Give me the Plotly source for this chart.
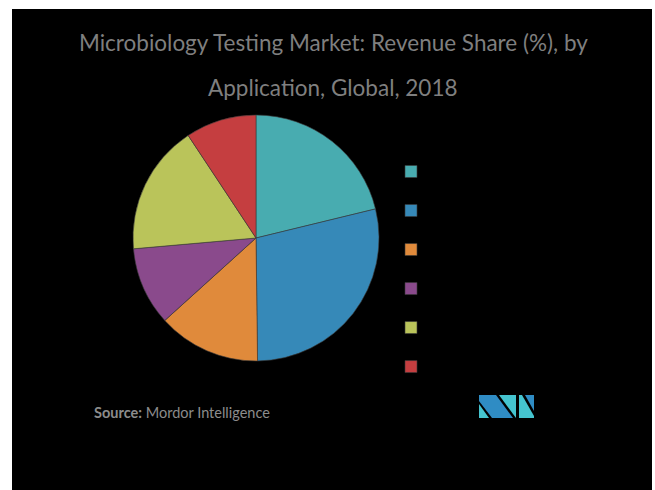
import plotly.graph_objects as go

W, H = 655, 490

applications = ["Clinical", "Pharmaceutical", "Food Testing", "Energy",
                "Chemicals", "Environmental"]
revenue_share = [21.2, 28.6, 13.5, 10.3, 17.1, 9.3]
slice_colors = ["#48acb0", "#3689b8", "#e08a3b", "#8a4a8c", "#bac45a", "#c53e40"]

title_line1 = "Microbiology Testing Market: Revenue Share (%), by"
title_line2 = "Application, Global, 2018"
source_text = "<b>Source:</b> Mordor Intelligence"


def px(x):
    return x / W


def py(y):
    return 1 - y / H


def path(points):
    return "M " + " L ".join(f"{px(x)},{py(y)}" for x, y in points) + " Z"


fig = go.Figure(go.Pie(
    labels=applications,
    values=revenue_share,
    sort=False,
    direction="clockwise",
    rotation=0,
    textinfo="none",
    marker=dict(colors=slice_colors, line=dict(color="#3a3a3a", width=0.6)),
    domain=dict(x=[px(133), px(379)], y=[py(361), py(115)]),
))

shapes = [
    dict(type="rect", xref="paper", yref="paper", x0=px(12), x1=px(652),
         y0=py(H), y1=py(9), fillcolor="black", line=dict(width=0), layer="below"),
    # logo
    dict(type="path", xref="paper", yref="paper", layer="above",
         path=path([(479, 395), (496, 395), (513, 418), (492, 418), (479, 401)]),
         fillcolor="#2f8cc4", line=dict(width=0)),
    dict(type="path", xref="paper", yref="paper", layer="above",
         path=path([(479, 404), (479, 418), (489, 418)]),
         fillcolor="#45c4cf", line=dict(width=0)),
    dict(type="path", xref="paper", yref="paper", layer="above",
         path=path([(499, 395), (516, 395), (516, 418)]),
         fillcolor="#45c4cf", line=dict(width=0)),
    dict(type="path", xref="paper", yref="paper", layer="above",
         path=path([(519, 395), (522, 395), (534, 416), (534, 418), (519, 418)]),
         fillcolor="#45c4cf", line=dict(width=0)),
    dict(type="path", xref="paper", yref="paper", layer="above",
         path=path([(525, 395), (534, 395), (534, 411)]),
         fillcolor="#2f8cc4", line=dict(width=0)),
]

annotations = [
    dict(text=title_line1, x=px(333), y=py(43), xref="paper", yref="paper",
         showarrow=False, xanchor="center", yanchor="middle",
         font=dict(family="Lato", size=22.5, color="#7f7f7f")),
    dict(text=title_line2, x=px(333), y=py(87), xref="paper", yref="paper",
         showarrow=False, xanchor="center", yanchor="middle",
         font=dict(family="Lato", size=22.5, color="#7f7f7f")),
    dict(text=source_text, x=px(92), y=py(412), xref="paper", yref="paper",
         showarrow=False, xanchor="left", yanchor="middle",
         font=dict(family="Lato", size=14.5, color="#8c8c8c")),
]

fig.update_layout(
    width=W, height=H,
    margin=dict(l=0, r=0, t=0, b=0, autoexpand=False),
    paper_bgcolor="white",
    plot_bgcolor="white",
    showlegend=True,
    legend=dict(x=px(391), y=py(147), xanchor="left", yanchor="top",
                font=dict(family="Lato", size=27.7, color="black"),
                bgcolor="rgba(0,0,0,0)"),
    shapes=shapes,
    annotations=annotations,
)

fig.write_html("out.html", config={"displayModeBar": False},
               post_script="document.body.style.margin='0';")
